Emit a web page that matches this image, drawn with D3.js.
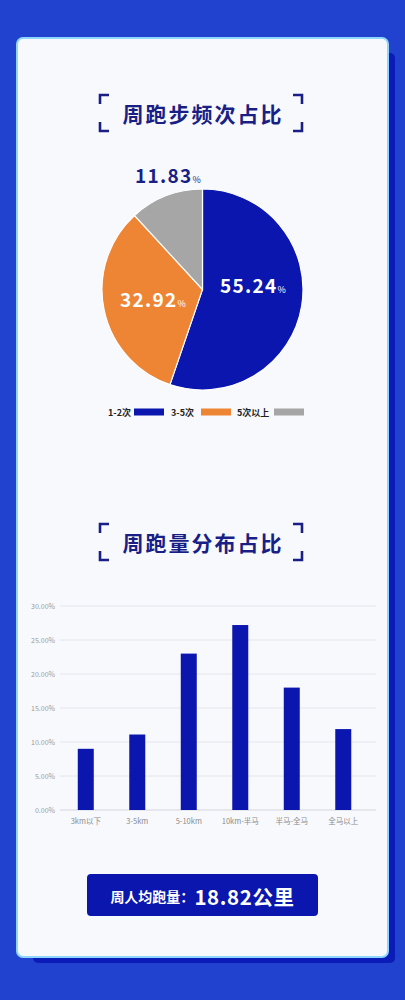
<!DOCTYPE html>
<html><head><meta charset="utf-8">
<script src="https://cdn.jsdelivr.net/npm/d3@7"></script>
<style>
html,body{margin:0;padding:0;background:#2141cf;}
svg{display:block;}
</style></head>
<body>
<svg id="c" width="405" height="1000"></svg>
<script>
const pieTitle = "周跑步频次占比";
const pieCategories = ["1-2次", "3-5次", "5次以上"];
const pieValues = [55.24, 32.92, 11.83];
const pieColors = ["#0a16ad", "#ee8535", "#a6a6a6"];

const barTitle = "周跑量分布占比";
const barCategories = ["3km以下", "3-5km", "5-10km", "10km-半马", "半马-全马", "全马以上"];
const barValues = [9.0, 11.1, 23.0, 27.2, 18.0, 11.9];
const barTicks = [0, 5, 10, 15, 20, 25, 30];

const summaryLabel = "周人均跑量：";
const summaryValue = "18.82公里";

const FONT = "'Noto Sans CJK SC','Noto Sans',sans-serif";
const svg = d3.select("#c");

// background
svg.append("rect").attr("width",405).attr("height",1000).attr("fill","#2141cf");
// shadow
svg.append("rect").attr("x",33).attr("y",53).attr("width",362).attr("height",910).attr("rx",5).attr("fill","#0b1bb8");
// card
svg.append("rect").attr("x",17).attr("y",38).attr("width",371).attr("height",919).attr("rx",6)
  .attr("fill","#f8f9fd").attr("stroke","#8fd6ff").attr("stroke-width",2);

function titleBlock(text, cy){
  const g = svg.append("g");
  const col = "#1a1f86";
  const top = cy-18, bot = cy+18, L=100, R=302, arm=9;
  g.append("path").attr("d",`M${L+arm},${top}H${L}V${top+arm}`).attr("fill","none").attr("stroke",col).attr("stroke-width",2.6);
  g.append("path").attr("d",`M${L},${bot-arm}V${bot}H${L+arm}`).attr("fill","none").attr("stroke",col).attr("stroke-width",2.6);
  g.append("path").attr("d",`M${R-arm},${top}H${R}V${top+arm}`).attr("fill","none").attr("stroke",col).attr("stroke-width",2.6);
  g.append("path").attr("d",`M${R},${bot-arm}V${bot}H${R-arm}`).attr("fill","none").attr("stroke",col).attr("stroke-width",2.6);
  g.append("text").attr("x",203).attr("y",cy).attr("text-anchor","middle").attr("dominant-baseline","central")
    .attr("font-family",FONT).attr("font-weight",700).attr("font-size",21).attr("letter-spacing",2)
    .attr("fill",col).text(text);
}
titleBlock(pieTitle, 113);
titleBlock(barTitle, 542);

// pie
const cx=202.5, cy=289.5, r=100.5;
const pie = d3.pie().sort(null).value(d=>d)(pieValues);
const arc = d3.arc().innerRadius(0).outerRadius(r);
const pg = svg.append("g").attr("transform",`translate(${cx},${cy})`);
pg.selectAll("path").data(pie).join("path").attr("d",arc)
  .attr("fill",(d,i)=>pieColors[i]).attr("stroke","#ffffff").attr("stroke-width",1.2);

const labelPos = [[220,292.5,"#ffffff"],[120,306.5,"#ffffff"],[135,183,"#1a1f86"]];
pie.forEach((d,i)=>{
  const t = svg.append("text").attr("x",labelPos[i][0]).attr("y",labelPos[i][1])
    .attr("font-family",FONT).attr("font-weight",700).attr("fill",labelPos[i][2]);
  t.append("tspan").attr("font-size",19).attr("letter-spacing",1.3).text(pieValues[i].toFixed(2));
  t.append("tspan").attr("font-size",9).attr("font-weight",400).text("%");
});

// legend
const legX = [[108,134],[171,201],[237,274]];
pieCategories.forEach((c,i)=>{
  svg.append("text").attr("x",legX[i][0]).attr("y",412).attr("dominant-baseline","central")
    .attr("font-family",FONT).attr("font-weight",700).attr("font-size",9).attr("fill","#222").text(c);
  svg.append("rect").attr("x",legX[i][1]).attr("y",408.5).attr("width",30).attr("height",7).attr("fill",pieColors[i]);
});

// bar chart
const y = d3.scaleLinear().domain([0,30]).range([810,606]);
const x = d3.scaleBand().domain(barCategories).range([60,369]).paddingInner(0.69).paddingOuter(0.345);
const gridG = svg.append("g");
gridG.selectAll("line").data(barTicks).join("line")
  .attr("x1",60).attr("x2",376).attr("y1",d=>y(d)).attr("y2",d=>y(d))
  .attr("stroke",d=>d===0?"#d4d6dc":"#e4e6ec").attr("stroke-width",1);
gridG.selectAll("text").data(barTicks).join("text")
  .attr("x",55).attr("y",d=>y(d)).attr("text-anchor","end").attr("dominant-baseline","central")
  .attr("font-family",FONT).attr("font-size",7).attr("fill","#9a9a9a").text(d=>d.toFixed(2)+"%");

svg.append("g").selectAll("rect").data(barValues).join("rect")
  .attr("x",(d,i)=>x(barCategories[i])).attr("width",16)
  .attr("y",d=>y(d)).attr("height",d=>y(0)-y(d)).attr("fill","#0a16ad");

svg.append("g").selectAll("text").data(barCategories).join("text")
  .attr("x",d=>x(d)+8).attr("y",820).attr("text-anchor","middle").attr("dominant-baseline","central")
  .attr("font-family",FONT).attr("font-size",7.5).attr("fill","#8a8a8a").text(d=>d);

// summary box
svg.append("rect").attr("x",87).attr("y",874).attr("width",231).attr("height",42).attr("rx",4).attr("fill","#0a16ad");
const st = svg.append("text").attr("x",202.5).attr("y",896).attr("text-anchor","middle").attr("dominant-baseline","central")
  .attr("font-family",FONT).attr("font-weight",700).attr("fill","#ffffff");
st.append("tspan").attr("font-size",14).text(summaryLabel);
st.append("tspan").attr("font-size",20.5).attr("letter-spacing",0.6).text(summaryValue);
</script>
</body></html>
